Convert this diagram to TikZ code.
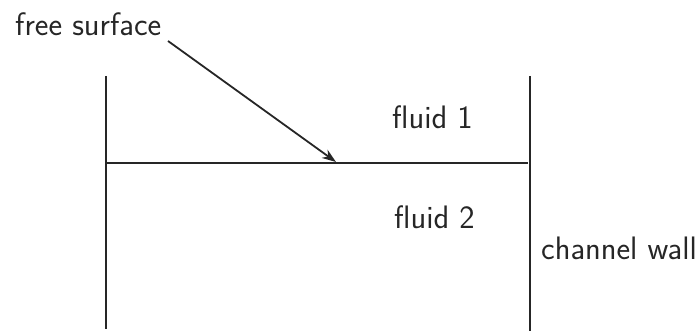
\documentclass[tikz,border=0pt]{standalone}
\usetikzlibrary{arrows.meta}
\begin{document}
\begin{tikzpicture}[x=1pt,y=-1pt,
  wall/.style={line width=2.6pt,black!85},
  lbl/.style={anchor=base west,inner sep=0pt,font=\sffamily\fontsize{32.5}{38}\selectfont,text=black!85},
  pointer/.style={line width=1.8pt,black!85,-{Stealth[length=14pt,width=10pt]}}]
\useasboundingbox (0,0) rectangle (699,331);
\coordinate (lt) at (106,76);
\coordinate (lb) at (106,329);
\coordinate (rt) at (530,76);
\coordinate (rb) at (530,331);
\coordinate (sl) at (106,163);
\coordinate (sr) at (528,163);
\coordinate (tip) at (336,162);
\coordinate (tail) at (168,41);
\draw[wall] (lt) -- (lb);
\draw[wall] (rt) -- (rb);
\draw[wall] (sl) -- (sr);
\node[lbl] (fs) at (15,36) {free surface};
\node[lbl] (f1) at (392,129) {fluid 1};
\node[lbl] (f2) at (394,229) {fluid 2};
\node[lbl] (cw) at (541,259) {channel wall};
\draw[pointer] (tail) -- (tip);
\end{tikzpicture}
\end{document}
